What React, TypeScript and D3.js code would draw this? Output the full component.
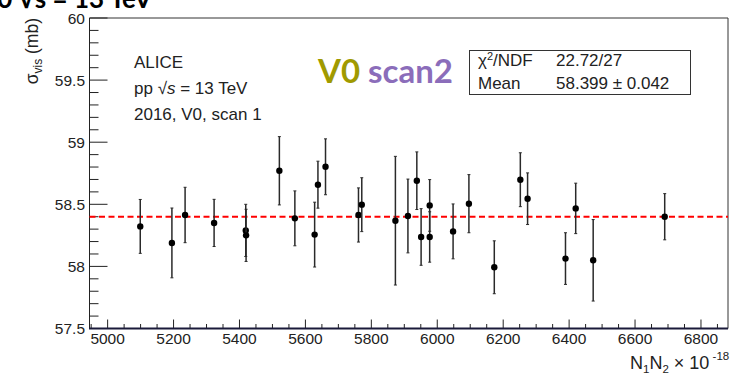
import React from "react";
import * as d3 from "d3";

const nProducts = [5099, 5195, 5235, 5323, 5419, 5420, 5521, 5568, 5628, 5638, 5661, 5761, 5771, 5873, 5911, 5938, 5951, 5977, 5977, 6048, 6096, 6173, 6252, 6274, 6389, 6420, 6473, 6690];
const sigmaVis = [58.322, 58.189, 58.414, 58.35, 58.29, 58.25, 58.77, 58.387, 58.256, 58.658, 58.802, 58.414, 58.497, 58.368, 58.406, 58.69, 58.237, 58.491, 58.237, 58.282, 58.505, 57.993, 58.698, 58.545, 58.063, 58.467, 58.049, 58.4];
const sigmaErr = [0.217, 0.281, 0.223, 0.19, 0.21, 0.21, 0.275, 0.221, 0.261, 0.189, 0.225, 0.218, 0.217, 0.518, 0.297, 0.232, 0.228, 0.208, 0.203, 0.221, 0.234, 0.213, 0.217, 0.208, 0.208, 0.203, 0.328, 0.186];
const meanValue = 58.399;
const xTickLabels = ["5000", "5200", "5400", "5600", "5800", "6000", "6200", "6400", "6600", "6800"];
const yTickLabels = ["57.5", "58", "58.5", "59", "59.5", "60"];
const xDomain = [4945, 6882];
const yDomain = [57.5, 60];

const FONT = "'Liberation Sans', Arial, Helvetica, sans-serif";

export default function App() {
  const W = 734, H = 376;
  const left = 89.5, right = 728, top = 18, bottom = 328.5;
  const x = d3.scaleLinear().domain(xDomain).range([left, right]);
  const y = d3.scaleLinear().domain(yDomain).range([bottom, top]);

  const xMinor = d3.range(4950, 6900, 50).filter((v) => v >= xDomain[0] && v <= xDomain[1]);
  const yMinor = d3.range(0, 26).map((i) => 57.5 + i * 0.1);

  return (
    <svg width={W} height={H} style={{ position: "absolute", left: 0, top: 0, background: "#fff" }}>
      <rect x={0} y={0} width={W} height={H} fill="#fff" />
      {/* cropped slide title */}
      <text x={152} y={8} textAnchor="end" fontFamily="Lato, 'Open Sans', sans-serif" fontWeight={700} fontSize={26} fill="#000">
        V0 √s = 13 TeV
      </text>

      {/* frame */}
      <line x1={left} x2={right} y1={top} y2={top} stroke="#333" strokeWidth={1} />
      <line x1={right} x2={right} y1={top} y2={bottom} stroke="#333" strokeWidth={1} />
      <line x1={left} x2={left} y1={top} y2={bottom} stroke="#222" strokeWidth={1} />

      {/* y ticks */}
      {yMinor.map((v, i) => {
        const major = i % 5 === 0;
        return (
          <line key={"ym" + i} x1={left} x2={left + (major ? 18 : 9)} y1={y(v)} y2={y(v)} stroke="#222" strokeWidth={1} />
        );
      })}
      {yTickLabels.map((t) => (
        <text key={"yl" + t} x={85} y={y(+t)} dy="0.36em" textAnchor="end" fontFamily={FONT} fontSize={15.5} fill="#222">
          {t}
        </text>
      ))}

      {/* x ticks */}
      {xMinor.map((v) => {
        const major = v % 200 === 0;
        return (
          <line key={"xm" + v} x1={x(v)} x2={x(v)} y1={bottom} y2={bottom - (major ? 9 : 4.5)} stroke="#222" strokeWidth={1} />
        );
      })}
      {xTickLabels.map((t) => (
        <text key={"xl" + t} x={x(+t)} y={344} textAnchor="middle" fontFamily={FONT} fontSize={15.5} fill="#222">
          {t}
        </text>
      ))}
      <line x1={left - 0.5} x2={right} y1={bottom} y2={bottom} stroke="#1a1a3a" strokeWidth={2} />

      {/* axis titles */}
      <text transform={`translate(38,18) rotate(-90)`} textAnchor="end" fontFamily={FONT} fontSize={17.5} fill="#222">
        σ<tspan fontSize={12} dy={4}>vis</tspan>
        <tspan dy={-4}> (mb)</tspan>
      </text>
      <text x={630} y={369} fontFamily={FONT} fontSize={18} fill="#222">
        N<tspan fontSize={11.5} dy={4}>1</tspan>
        <tspan dy={-4}>N</tspan>
        <tspan fontSize={11.5} dy={4}>2</tspan>
        <tspan dy={-4}> × 10</tspan>
        <tspan fontSize={11.5} dy={-9}> -18</tspan>
      </text>

      {/* mean line */}
      <line x1={left} x2={right} y1={y(meanValue)} y2={y(meanValue)} stroke="#ff0000" strokeWidth={2} strokeDasharray="6,3.5" />

      {/* error bars and points */}
      {nProducts.map((nx, i) => (
        <g key={"p" + i}>
          <line x1={x(nx)} x2={x(nx)} y1={y(sigmaVis[i] - sigmaErr[i])} y2={y(sigmaVis[i] + sigmaErr[i])} stroke="#2a2a2a" strokeWidth={1.5} />
          <line x1={x(nx) - 1.5} x2={x(nx) + 1.5} y1={y(sigmaVis[i] + sigmaErr[i])} y2={y(sigmaVis[i] + sigmaErr[i])} stroke="#2a2a2a" strokeWidth={1} />
          <line x1={x(nx) - 1.5} x2={x(nx) + 1.5} y1={y(sigmaVis[i] - sigmaErr[i])} y2={y(sigmaVis[i] - sigmaErr[i])} stroke="#2a2a2a" strokeWidth={1} />
          <circle cx={x(nx)} cy={y(sigmaVis[i])} r={3.2} fill="#000" />
        </g>
      ))}

      {/* ALICE label */}
      <g fontFamily={FONT} fontSize={17} fill="#222">
        <text x={134} y={68}>ALICE</text>
        <text x={134} y={94}>
          pp √<tspan fontStyle="italic">s</tspan> = 13 TeV
        </text>
        <text x={134} y={120}>2016, V0, scan 1</text>
      </g>

      {/* V0 scan2 */}
      <text x={318} y={83} fontFamily="Lato, 'Open Sans', sans-serif" fontWeight={700} fontSize={33}>
        <tspan fill="#a09a00">V0</tspan>
        <tspan fill="#8b6dba"> scan2</tspan>
      </text>

      {/* stats box */}
      <rect x={469.5} y={50.5} width={221} height={44} fill="#fff" stroke="#333" strokeWidth={1} />
      <g fontFamily={FONT} fontSize={17} fill="#222">
        <text x={478} y={65.5}>
          χ<tspan fontSize={11} dy={-6}>2</tspan>
          <tspan dy={6}>/NDF</tspan>
        </text>
        <text x={556} y={65.5}>22.72/27</text>
        <text x={478} y={88.5}>Mean</text>
        <text x={556} y={88.5}>58.399 ± 0.042</text>
      </g>
    </svg>
  );
}
